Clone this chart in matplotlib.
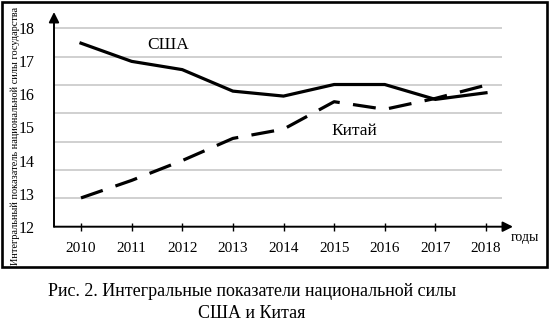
import numpy as np
import matplotlib
matplotlib.use("Agg")
import matplotlib.pyplot as plt
from matplotlib.patches import Rectangle

plt.rcParams['font.family'] = ['Liberation Serif', 'DejaVu Serif']

years = [2010, 2011, 2012, 2013, 2014, 2015, 2016, 2017, 2018]
usa = [17.55, 17.0, 16.75, 16.1, 15.95, 16.3, 16.3, 15.85, 16.05]
china = [12.87, 13.4, 14.0, 14.67, 14.95, 15.78, 15.55, 15.88, 16.28]
y_ticks = [12, 13, 14, 15, 16, 17, 18]

W, H = 550, 324
fig = plt.figure(figsize=(W / 100, H / 100), dpi=100)

# axes box in pixel terms (left, right, bottom, top measured from image top)
px_left, px_right, px_bottom, px_top = 54, 513, 226.7, 12
ax = fig.add_axes([px_left / W, (H - px_bottom) / H,
                   (px_right - px_left) / W, (px_bottom - px_top) / H])

# x: 2010 at 81 px, 2018 at 486 px ; y: 12 at 226.7 px, 18 at 28.3 px
xs = (486 - 81) / 8.0
x0 = 2010 - (81 - px_left) / xs
x1 = 2010 + (px_right - 81) / xs
ys = (226.7 - 28.3) / 6.0
y0 = 12
y1 = 12 + (px_bottom - px_top) / ys
ax.set_xlim(x0, x1)
ax.set_ylim(y0, y1)

# horizontal guide lines
grid_end = 2010 + (502 - 81) / xs
for lvl in np.linspace(12, 18, 8)[1:]:
    ax.plot([x0, grid_end], [lvl, lvl], color='#c4c4c4', lw=1.1, zorder=1,
            solid_capstyle='butt')

ax.plot(years, usa, color='black', lw=2.3, zorder=3, solid_joinstyle='miter')
ax.plot(years, china, color='black', lw=2.3, zorder=3,
        dashes=(7.2, 4.2), dash_capstyle='butt')

for s in ax.spines.values():
    s.set_visible(False)

# arrowed axes
ax.annotate('', xy=(x1, y0), xytext=(x0, y0),
            arrowprops=dict(arrowstyle='-|>', color='black', lw=1.4,
                            mutation_scale=15, shrinkA=0, shrinkB=0),
            annotation_clip=False)
ax.annotate('', xy=(x0, y1), xytext=(x0, y0),
            arrowprops=dict(arrowstyle='-|>', color='black', lw=1.4,
                            mutation_scale=15, shrinkA=0, shrinkB=0),
            annotation_clip=False)

ax.set_xticks(years)
ax.set_xticklabels([str(y) for y in years], fontsize=11)
ax.tick_params(axis='x', direction='inout', length=6, width=1, pad=8,
               color='black')
ax.set_yticks(y_ticks)
ax.set_yticklabels([str(v) for v in y_ticks], fontsize=11.5)
ax.tick_params(axis='y', length=0, pad=14)

ax.text(2011.72, 17.5, 'США', fontsize=12.5, ha='center', va='center')
ax.text(2015.4, 14.9, 'Китай', fontsize=12.5, ha='center', va='center')

fig.text(525 / W, 1 - 238 / H, 'годы', fontsize=10, ha='center', va='center')
fig.text(15 / W, 1 - 136 / H,
         'Интегральный показатель национальной силы государства',
         fontsize=7.4, rotation=90, ha='center', va='center')

# frame around the chart
fig.patches.append(Rectangle((1.5 / W, 1 - 267 / H), (547 - 1.5) / W, (267 - 1.5) / H,
                             transform=fig.transFigure, fill=False,
                             edgecolor='black', lw=1.9))

fig.text(252 / W, 1 - 292 / H, 'Рис. 2. Интегральные показатели национальной силы',
         fontsize=13, ha='center', va='center')
fig.text(252 / W, 1 - 313 / H, 'США и Китая', fontsize=13,
         ha='center', va='center')

fig.savefig('out.png', dpi=100)
